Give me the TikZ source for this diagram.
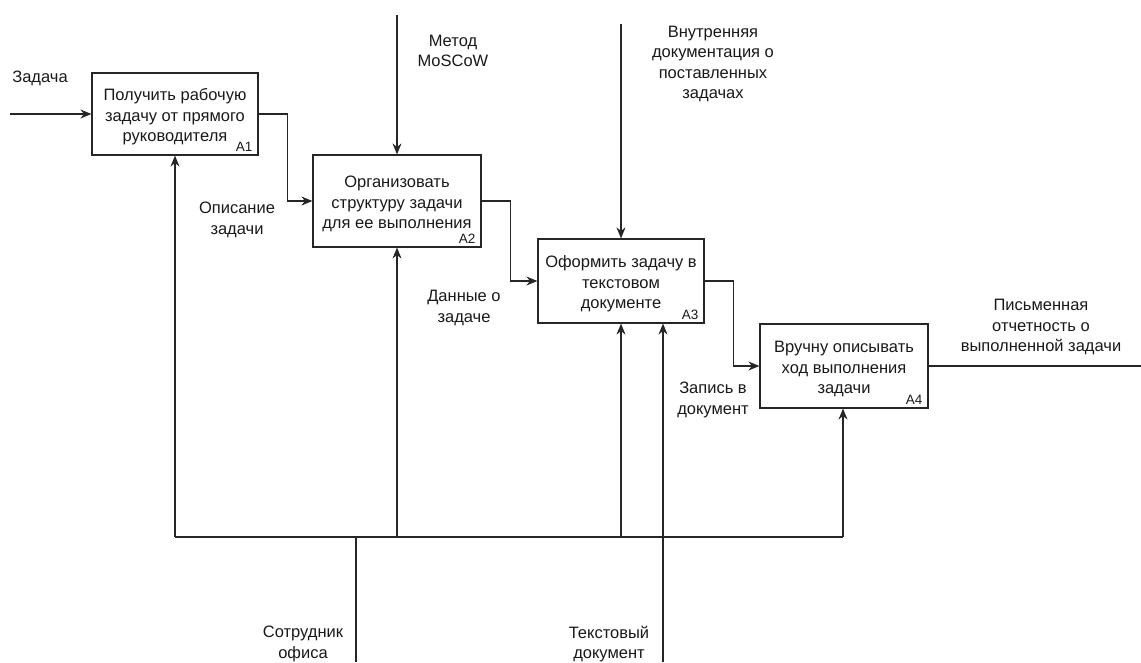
\documentclass[tikz,border=0pt]{standalone}
\usepackage{fontspec}
\setmainfont{Liberation Sans}
\usetikzlibrary{arrows.meta,calc}
\begin{document}
\begin{tikzpicture}[x=1pt,y=-1pt,
  every node/.style={font=\fontsize{16.5}{20.5}\selectfont, text=black!90},
  fn/.style={draw=black!85, line width=1.2pt, inner sep=0pt},
  lbl/.style={align=center, inner sep=0pt},
  tag/.style={font=\fontsize{13.5}{14}\selectfont, inner sep=0pt, anchor=south east},
  ln/.style={draw=black!85, line width=1.2pt},
  arr/.style={ln, -{Stealth[length=11pt,width=9pt]}}
]
\useasboundingbox (0,0) rectangle (1141,662);
% boxes
\node[fn, minimum width=166pt, minimum height=82pt] (A1) at (175,114) {};
\node[fn, minimum width=168pt, minimum height=92pt] (A2) at (397,201) {};
\node[fn, minimum width=166pt, minimum height=84pt] (A3) at (621,281) {};
\node[fn, minimum width=168pt, minimum height=84pt] (A4) at (844,366) {};
\node[lbl] (x1) at ([yshift=-3pt]A1.center) {Получить рабочую\\задачу от прямого\\руководителя};
\node[lbl] (x2) at ([yshift=-3pt]A2.center) {Организовать\\структуру задачи\\для ее выполнения};
\node[lbl] (x3) at ([yshift=-3pt]A3.center) {Оформить задачу в\\текстовом\\документе};
\node[lbl] (x4) at ([yshift=-3pt]A4.center) {Вручну описывать\\ход выполнения\\задачи};
\node[tag] (t1) at ([xshift=-6pt,yshift=4pt]A1.south east) {A1};
\node[tag] (t2) at ([xshift=-6pt,yshift=4pt]A2.south east) {A2};
\node[tag] (t3) at ([xshift=-6pt,yshift=4pt]A3.south east) {A3};
\node[tag] (t4) at ([xshift=-6pt,yshift=4pt]A4.south east) {A4};
% labels
\node[lbl] (lz) at (40,78) {Задача};
\node[lbl] (lo) at (237,220) {Описание\\задачи};
\node[lbl] (ld) at (464,308) {Данные о\\задаче};
\node[lbl] (lzp) at (713,400) {Запись в\\документ};
\node[lbl] (lp) at (1041,327) {Письменная\\отчетность о\\выполненной задачи};
\node[lbl] (lv) at (713,64) {Внутренняя\\документация о\\поставленных\\задачах};
\node[lbl] (lm) at (453,51) {Метод\\MoSCoW};
\node[lbl] (ls) at (303,644) {Сотрудник\\офиса};
\node[lbl] (lt) at (609,644) {Текстовый\\документ};
% coordinates
\coordinate (in) at (10,114);
\coordinate (out) at (1141,366);
\coordinate (c1) at (397,15);
\coordinate (c2) at (621,24);
\coordinate (m1) at (175,537);
\coordinate (m2) at (397,537);
\coordinate (m3) at (621,537);
\coordinate (m4) at (843,537);
\coordinate (s) at (356,662);
\coordinate (td) at (663,662);
% connectors
\draw[arr] (in) -- (A1.west);
\draw[arr] (A1.east) -- ++(29,0) |- (A2.west);
\draw[arr] (A2.east) -- ++(29,0) |- (A3.west);
\draw[arr] (A3.east) -- ++(29,0) |- (A4.west);
\draw[ln] (A4.east) -- (out);
\draw[arr] (c1) -- (A2.north);
\draw[arr] (c2) -- (A3.north);
\draw[ln] (m1) -- (m4);
\draw[ln] (s) -- (s |- m1);
\draw[arr] (m1) -- (A1.south);
\draw[arr] (m2) -- (A2.south);
\draw[arr] (m3) -- (A3.south);
\draw[arr] (m4) -- (m4 |- A4.south);
\draw[arr] (td) -- (td |- A3.south);
\end{tikzpicture}
\end{document}
